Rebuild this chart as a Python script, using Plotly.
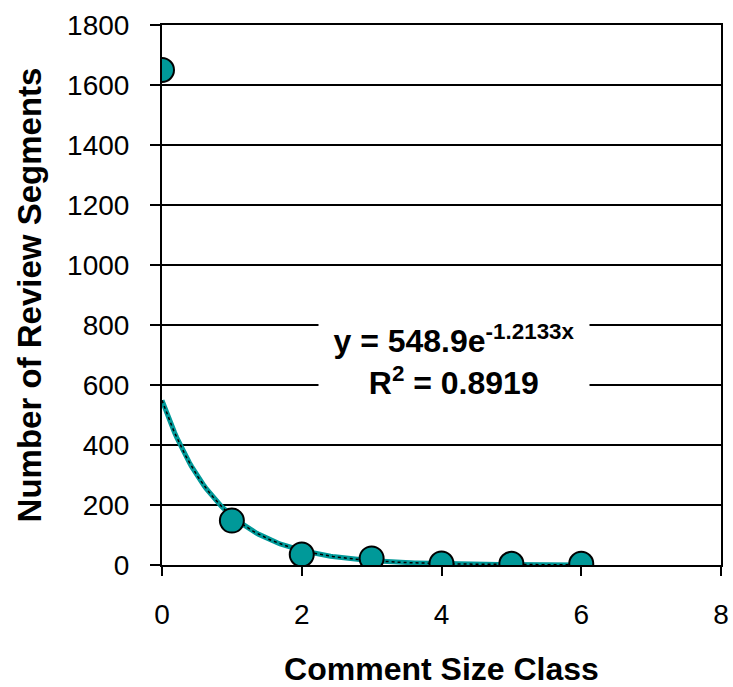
import numpy as np
import plotly.graph_objects as go

# Observed counts per comment size class
size_class = [0, 1, 2, 3, 4, 5, 6]
segments = [1650, 148, 35, 22, 5, 4, 4]

# Exponential trendline coefficients (as printed on the chart)
coef_a = 548.9
coef_b = -1.2133
r_squared = 0.8919

x_ticks = [0, 2, 4, 6, 8]
y_ticks = list(range(0, 1801, 200))

teal = "#009999"
font_family = "Liberation Sans, Arial, sans-serif"

x_fit = np.linspace(min(size_class), max(size_class), 200)
y_fit = coef_a * np.exp(coef_b * x_fit)

fig = go.Figure()

# trendline: thick teal stroke with a fine black dotted overlay
fig.add_trace(go.Scatter(x=x_fit, y=y_fit, mode="lines",
                         line=dict(color=teal, width=5), hoverinfo="skip",
                         showlegend=False))
fig.add_trace(go.Scatter(x=x_fit, y=y_fit, mode="lines",
                         line=dict(color="black", width=1.5, dash="dot"),
                         hoverinfo="skip", showlegend=False))

# data points
fig.add_trace(go.Scatter(x=size_class, y=segments, mode="markers",
                         marker=dict(symbol="circle", size=24, color=teal,
                                     line=dict(color="black", width=2)),
                         showlegend=False))

eq_text = (f"y = {coef_a}e<sup>{coef_b}x</sup><br>"
           f"R<sup>2</sup> = {r_squared}")
fig.add_annotation(x=4.18, y=682, xref="x", yref="y", text=eq_text,
                   showarrow=False, bgcolor="white", borderpad=4,
                   font=dict(family=font_family, size=32, color="black",
                             weight="bold"),
                   align="center", width=262)

fig.update_layout(
    width=733, height=687,
    margin=dict(l=162, r=12, t=25, b=122, autoexpand=False),
    paper_bgcolor="white", plot_bgcolor="white",
    font=dict(family=font_family, color="black"),
    xaxis=dict(range=[0, 8], tickvals=x_ticks, showgrid=False,
               zeroline=False, showline=True, linecolor="black", linewidth=2,
               mirror=True, ticks="outside", ticklen=9, tickwidth=2,
               tickcolor="black", tickfont=dict(size=28),
               ticklabelstandoff=14, automargin=False,
               title=dict(text="<b>Comment Size Class</b>",
                          font=dict(size=32), standoff=33)),
    yaxis=dict(range=[0, 1800], tickvals=y_ticks, showgrid=True,
               gridcolor="black", gridwidth=2, zeroline=False,
               showline=True, linecolor="black", linewidth=2, mirror=True,
               ticks="outside", ticklen=10, tickwidth=2, tickcolor="black",
               tickfont=dict(size=28), ticklabelstandoff=15, automargin=False,
               title=dict(text="<b>Number of Review Segments</b>",
                          font=dict(size=33), standoff=16)),
)

fig.write_html("out.html")
